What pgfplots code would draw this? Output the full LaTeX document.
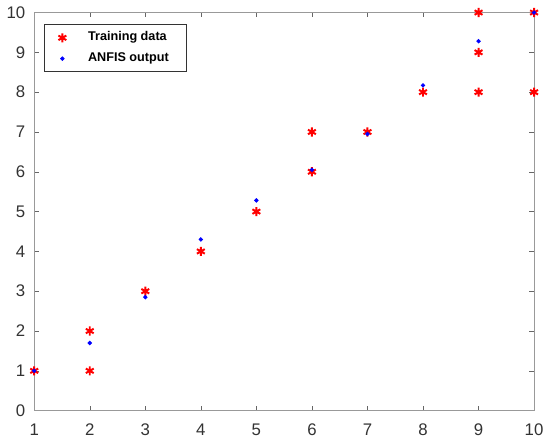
\documentclass[border=0pt]{standalone}
\usepackage{pgfplots}
\usepackage{fontspec}
\setmainfont{Liberation Sans}
\pgfplotsset{compat=1.18}

\begin{document}
\begin{tikzpicture}
\begin{axis}[
    scale only axis,
    width=253pt, height=201.5pt,
    xmin=1, xmax=10, ymin=0, ymax=10,
    xtick={1,...,10}, ytick={0,...,10},
    tick align=inside,
    major tick length=2.5pt,
    axis line style={gray!80},
    tick style={gray!80!black},
    tick label style={font=\fontsize{8.5}{9}\selectfont, text=black!80},
    /pgf/number format/assume math mode=true,
    xticklabel style={yshift=-3pt},
    yticklabel style={xshift=-1pt},
    clip=false,
    legend style={at={(0.02,0.97)}, anchor=north west,
        font=\fontsize{6.4}{7}\selectfont\bfseries, draw=black!80,
        inner xsep=7pt, inner ysep=1.5pt, row sep=0.5pt, column sep=9pt,
        cells={anchor=west}},
    legend cell align=left,
]
\addplot[only marks, mark=asterisk, mark size=2.3pt, color=red, line width=1pt]
    coordinates {(1,1)(2,1)(2,2)(3,3)(4,4)(5,5)(6,6)(6,7)(7,7)(8,8)
                 (9,8)(9,9)(9,10)(10,8)(10,10)};
\addplot[only marks, mark=*, mark size=0.9pt, color=blue]
    coordinates {(1,1)(2,1.7)(3,2.85)(4,4.3)(5,5.28)(6,6.05)(7,6.95)
                 (8,8.17)(9,9.28)(10,10)};
\legend{Training data, ANFIS output}
\end{axis}
\end{tikzpicture}
\end{document}
